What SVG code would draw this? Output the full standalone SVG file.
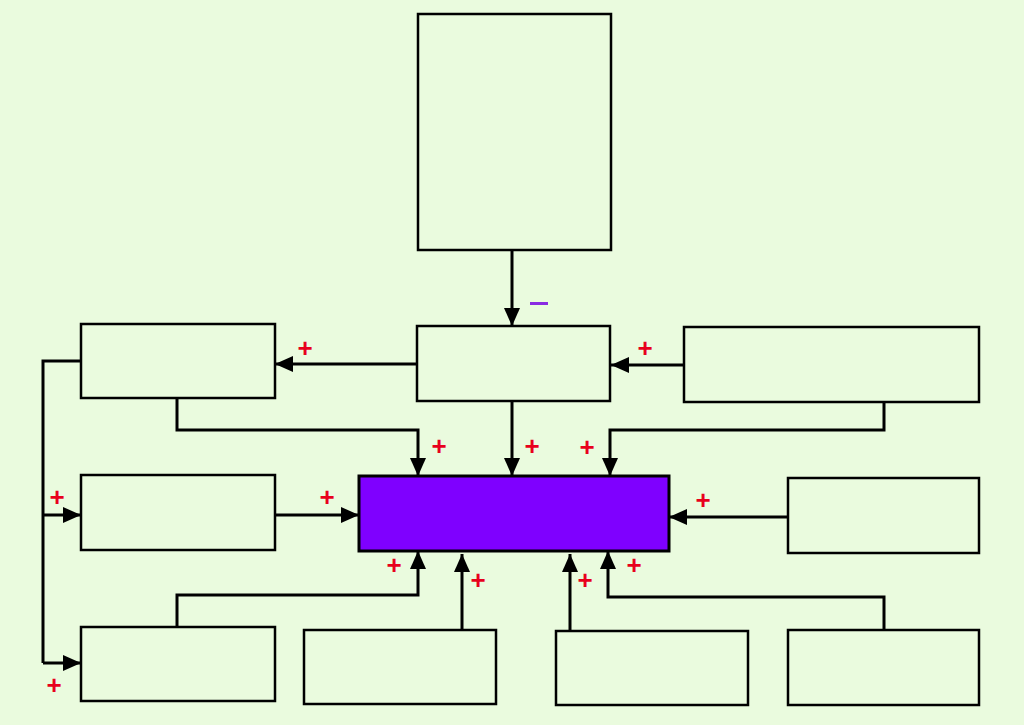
<svg xmlns="http://www.w3.org/2000/svg" width="1024" height="725" viewBox="0 0 1024 725">
<defs>
<marker id="ah" viewBox="0 0 18 16" refX="18" refY="8" markerWidth="18" markerHeight="16" markerUnits="userSpaceOnUse" orient="auto">
<path d="M0,0 L18,8 L0,16 Z" fill="#000"/>
</marker>
</defs>
<style>
.box{fill:none;stroke:#000;stroke-width:2.5}
.c{fill:none;stroke:#000;stroke-width:3;marker-end:url(#ah)}
.l{fill:none;stroke:#000;stroke-width:3}
.p{font-family:"Liberation Sans",Arial,sans-serif;font-size:26px;font-weight:bold;fill:#e8001c;text-anchor:middle}
</style>
<rect width="1024" height="725" fill="#eafbde"/>
<g id="top"><rect class="box" x="418" y="14" width="193" height="236"/></g>
<g id="middle"><rect class="box" x="417" y="326" width="193" height="75"/></g>
<g id="left1"><rect class="box" x="81" y="324" width="194" height="74"/></g>
<g id="right1"><rect class="box" x="684" y="327" width="295" height="75"/></g>
<g id="left2"><rect class="box" x="81" y="475" width="194" height="75"/></g>
<g id="center"><rect x="359" y="476" width="310" height="75" fill="#7f00ff" stroke="#000" stroke-width="3"/></g>
<g id="right2"><rect class="box" x="788" y="478" width="191" height="75"/></g>
<g id="bottom1"><rect class="box" x="81" y="627" width="194" height="74"/></g>
<g id="bottom2"><rect class="box" x="304" y="630" width="192" height="74"/></g>
<g id="bottom3"><rect class="box" x="556" y="631" width="192" height="74"/></g>
<g id="bottom4"><rect class="box" x="788" y="630" width="191" height="75"/></g>
<g id="connectors">
<path class="c" d="M512,250 V326"/>
<path class="c" d="M417,364 H275"/>
<path class="c" d="M684,365 H611"/>
<path class="c" d="M177,398 V430 H418 V476"/>
<path class="c" d="M512,401 V476"/>
<path class="c" d="M884,402 V430 H610 V476"/>
<path class="c" d="M275,515 H359"/>
<path class="c" d="M788,517 H669"/>
<path class="l" d="M81,361 H43 V663"/>
<path class="c" d="M43,663 H81"/>
<path class="c" d="M43,515 H81"/>
<path class="c" d="M177,627 V595 H418 V551"/>
<path class="c" d="M462,630 V554"/>
<path class="c" d="M570,631 V554"/>
<path class="c" d="M884,630 V597 H608 V551"/>
</g>
<g id="signs">
<rect x="530" y="302" width="18" height="3" fill="#8a2be2"/>
<text class="p" x="305" y="357">+</text>
<text class="p" x="645" y="357">+</text>
<text class="p" x="439" y="455">+</text>
<text class="p" x="532" y="455">+</text>
<text class="p" x="587" y="456">+</text>
<text class="p" x="327" y="506">+</text>
<text class="p" x="703" y="509">+</text>
<text class="p" x="57" y="506">+</text>
<text class="p" x="54" y="694">+</text>
<text class="p" x="394" y="574">+</text>
<text class="p" x="478" y="589">+</text>
<text class="p" x="585" y="589">+</text>
<text class="p" x="634" y="574">+</text>
</g>
</svg>
